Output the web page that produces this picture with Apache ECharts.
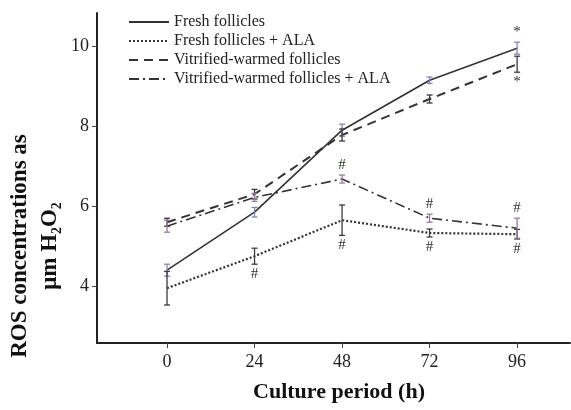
<!DOCTYPE html>
<html>
<head>
<meta charset="utf-8">
<script src="https://cdn.jsdelivr.net/npm/echarts@6/dist/echarts.min.js"></script>
<style>
  html, body { margin: 0; padding: 0; background: #fff; }
  #chart { width: 571px; height: 410px; }
</style>
</head>
<body>
<div id="chart"></div>
<script>
// culture period in hours
const hours = [0, 24, 48, 72, 96]
const yTicks = [4, 6, 8, 10]

const seriesNames = [
  'Fresh follicles',
  'Fresh follicles + ALA',
  'Vitrified-warmed follicles',
  'Vitrified-warmed follicles + ALA'
]

// mean ROS (µm H2O2)
const fresh = [4.4, 5.85, 7.9, 9.15, 9.95]
const freshAla = [3.95, 4.75, 5.65, 5.33, 5.3]
const vitrified = [5.6, 6.3, 7.78, 8.68, 9.55]
const vitrifiedAla = [5.5, 6.22, 6.68, 5.7, 5.45]

// error bar half widths
const freshErr = [0.15, 0.12, 0.15, 0.08, 0.15]
const freshAlaErr = [0.42, 0.2, 0.38, 0.1, 0.12]
const vitrifiedErr = [0.1, 0.12, 0.15, 0.1, 0.2]
const vitrifiedAlaErr = [0.15, 0.1, 0.1, 0.1, 0.25]

// significance marks: [series index, hour, text, side]
const sigMarks = [
  [0, 96, '*', 'above'],
  [2, 96, '*', 'below'],
  [3, 48, '#', 'above'],
  [3, 72, '#', 'above'],
  [3, 96, '#', 'above'],
  [1, 24, '#', 'below'],
  [1, 48, '#', 'below'],
  [1, 72, '#', 'below'],
  [1, 96, '#', 'below']
]

const means = [fresh, freshAla, vitrified, vitrifiedAla]
const errs = [freshErr, freshAlaErr, vitrifiedErr, vitrifiedAlaErr]
const lineTypes = ['solid', [2, 2], [9, 6], [10, 4, 2, 4]]
const lineWidths = [1.6, 2.2, 2, 1.6]
const errColors = ['#7f86b8', '#3a3a3a', '#3a3a3a', '#9a7aa0']
const serif = 'Liberation Serif, Times New Roman, serif'

const chart = echarts.init(document.getElementById('chart'))

const lineSeries = means.map((vals, i) => ({
  name: seriesNames[i],
  type: 'line',
  symbol: 'none',
  z: 3,
  data: hours.map((h, k) => [h, vals[k]]),
  lineStyle: { color: '#333', width: lineWidths[i], type: lineTypes[i] },
  itemStyle: { color: '#333' }
}))

const errData = []
means.forEach((vals, i) => {
  hours.forEach((h, k) => errData.push([h, vals[k], errs[i][k], i]))
})

const errSeries = {
  type: 'custom',
  z: 4,
  silent: true,
  data: errData,
  renderItem: (params, api) => {
    const x = api.value(0)
    const y = api.value(1)
    const e = api.value(2)
    const idx = api.value(3)
    const top = api.coord([x, y + e])
    const bot = api.coord([x, y - e])
    const style = { stroke: errColors[idx], lineWidth: 1.3 }
    return {
      type: 'group',
      children: [
        { type: 'line', shape: { x1: top[0], y1: top[1], x2: bot[0], y2: bot[1] }, style },
        { type: 'line', shape: { x1: top[0] - 3, y1: top[1], x2: top[0] + 3, y2: top[1] }, style },
        { type: 'line', shape: { x1: bot[0] - 3, y1: bot[1], x2: bot[0] + 3, y2: bot[1] }, style }
      ]
    }
  }
}

const markData = sigMarks.map(([s, h, text, side]) => {
  const k = hours.indexOf(h)
  return [h, means[s][k], errs[s][k], side === 'above' ? 1 : -1, text]
})

const markSeries = {
  type: 'custom',
  z: 5,
  silent: true,
  data: markData,
  renderItem: (params, api) => {
    const x = api.value(0)
    const dir = api.value(3)
    const end = api.coord([x, api.value(1) + dir * api.value(2)])
    return {
      type: 'text',
      x: end[0],
      y: end[1] - dir * 10,
      style: {
        text: markData[params.dataIndex][4],
        font: '15px ' + serif,
        fill: '#333',
        align: 'center',
        verticalAlign: 'middle'
      }
    }
  }
}

chart.setOption({
  animation: false,
  backgroundColor: '#fff',
  grid: { left: 97, right: 1, top: 13, bottom: 67 },
  legend: {
    orient: 'vertical',
    left: 123,
    top: 9,
    itemGap: 3,
    itemWidth: 40,
    itemHeight: 14,
    data: seriesNames,
    itemStyle: { opacity: 0 },
    lineStyle: { width: 2 },
    textStyle: { fontFamily: serif, fontSize: 16, color: '#222' }
  },
  xAxis: {
    type: 'value',
    min: -19.2,
    max: 110.5,
    splitLine: { show: false },
    axisLine: { onZero: false, lineStyle: { color: '#222', width: 2 } },
    axisTick: { customValues: hours, length: 5, lineStyle: { color: '#444' } },
    axisLabel: { customValues: hours, fontFamily: serif, fontSize: 18, color: '#222', margin: 10 }
  },
  yAxis: {
    type: 'value',
    min: 2.58,
    max: 10.83,
    splitLine: { show: false },
    axisLine: { show: true, onZero: false, lineStyle: { color: '#222', width: 2 } },
    axisTick: { show: true, customValues: yTicks, length: 5, lineStyle: { color: '#444' } },
    axisLabel: { customValues: yTicks, fontFamily: serif, fontSize: 18, color: '#222', margin: 8 }
  },
  graphic: [
    {
      type: 'text',
      x: 35,
      y: 246,
      rotation: Math.PI / 2,
      style: {
        text: 'ROS concentrations as\nμm H₂O₂',
        font: 'bold 23px ' + serif,
        fill: '#111',
        align: 'center',
        verticalAlign: 'middle',
        lineHeight: 30
      }
    },
    {
      type: 'text',
      x: 339,
      y: 392,
      style: {
        text: 'Culture period (h)',
        font: 'bold 22px ' + serif,
        fill: '#111',
        align: 'center',
        verticalAlign: 'middle'
      }
    }
  ],
  series: [...lineSeries, errSeries, markSeries]
})
</script>
</body>
</html>
